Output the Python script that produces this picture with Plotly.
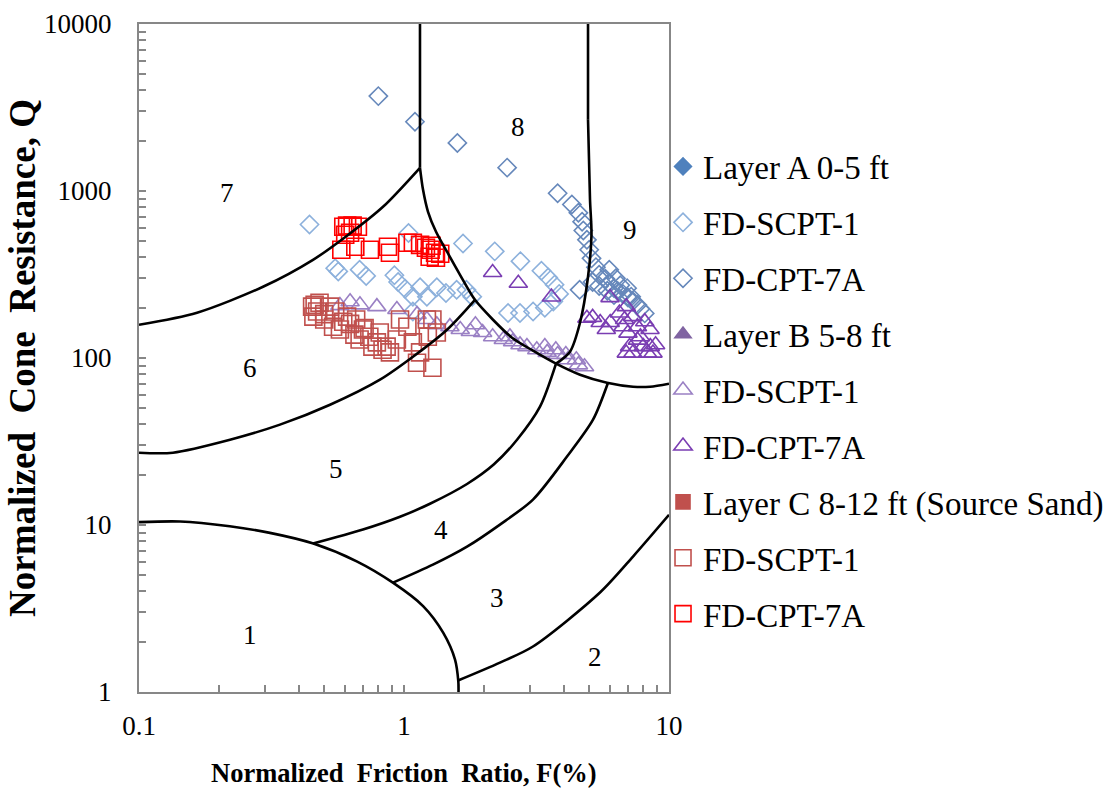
import numpy as np
import plotly.graph_objects as go

# ---------------- data ----------------
# Layer A 0-5 ft
a_scpt_F = [0.44, 0.55, 0.565, 0.68, 0.72, 0.92, 0.95, 1.01, 1.04, 1.08, 1.15, 1.22, 1.33, 1.44, 1.58,
            1.72, 1.81, 1.67, 2.2, 2.75, 3.3, 3.5, 3.7, 3.85, 3.66, 3.4, 3.07, 2.74, 2.47, 1.08]
a_scpt_Q = [630, 345, 330, 338, 310, 313, 285, 260, 560, 233, 265, 233, 265, 245, 256,
            256, 233, 485, 435, 380, 333, 303, 275, 242, 218, 200, 190, 186, 186, 190]
a_cpt_F = [0.80, 1.10, 1.59, 2.45, 3.8, 4.3, 4.55, 4.7, 4.75, 4.9, 5.0, 5.1, 5.3, 5.45, 5.75, 5.95, 6.2,
           6.4, 6.7, 7.0, 7.3, 7.6, 7.8, 8.1, 5.45, 5.85, 6.2, 6.55, 5.15, 6.95, 6.3, 5.95, 7.2, 4.6]
a_cpt_Q = [3700, 2600, 1940, 1380, 970, 830, 740, 655, 580, 510, 445, 395, 350, 315, 298, 278, 262,
           252, 242, 230, 219, 208, 197, 185, 270, 253, 238, 273, 285, 262, 300, 338, 233, 256]

# Layer B 5-8 ft
b_scpt_F = [0.573, 0.626, 0.682, 0.79, 0.94, 1.12, 1.22, 1.33, 1.49, 1.63, 1.78, 1.98, 2.16, 2.37, 2.57,
            2.91, 3.17, 3.47, 3.8, 4.15, 4.55, 4.8, 3.4, 3.74, 4.08, 4.47, 2.74, 2.51, 1.86]
b_scpt_Q = [206, 217, 208, 203, 195, 182, 170, 158, 154, 148, 144, 142, 134, 129, 125,
            117, 112, 108, 105, 97.7, 91, 88.7, 117, 112, 105, 97.7, 120, 134, 158]
b_cpt_F = [2.16, 2.7, 3.6, 5.99, 5.15, 5.5, 6.0, 6.5, 6.9, 7.3, 7.6, 7.8, 8.0, 8.3, 7.1, 7.3, 6.9, 7.6,
           8.5, 8.7, 7.0, 6.7, 4.9, 5.8, 8.48, 8.9, 8.1, 6.8]
b_cpt_Q = [325, 280, 232, 230, 175, 163, 163, 186, 203, 177, 154, 134, 117, 107, 117, 107, 107, 128,
           117, 107, 141, 154, 173, 148, 148, 120, 165, 170]

# Layer C 8-12 ft (Source Sand)
c_scpt_F = [0.45, 0.48, 0.526, 0.455, 0.50, 0.54, 0.573, 0.61, 0.66, 0.70, 0.74, 0.79, 0.81, 0.86, 0.885,
            0.966, 1.03, 1.08, 1.15, 1.12, 1.28, 1.22, 1.28, 1.33, 1.23, 0.94, 0.83, 0.76, 0.46, 0.47,
            0.50, 0.55, 0.59, 0.626, 0.65, 0.68, 0.71]
c_scpt_Q = [203, 214, 203, 177, 170, 154, 148, 177, 170, 148, 134, 124, 142, 117, 108,
            170, 154, 124, 108, 93.7, 87.5, 170, 170, 142, 134, 129, 112, 117, 208, 190,
            183, 190, 165, 160, 138, 129, 151]
c_cpt_F = [0.59, 0.61, 0.64, 0.67, 0.60, 0.626, 0.58, 0.655, 0.744, 0.87, 0.885, 1.03, 1.08, 1.15,
           1.21, 1.26, 1.31, 1.37, 1.25, 1.32, 1.27]
c_cpt_Q = [611, 620, 620, 611, 547, 562, 445, 464, 445, 464, 427, 490, 490, 476,
           457, 445, 427, 421, 404, 398, 470]

bnd_zone1_F = [0.1, 0.143, 0.22, 0.312, 0.455, 0.663, 0.911, 1.183, 1.407, 1.558, 1.603, 1.606]
bnd_zone1_Q = [10.4, 10.5, 9.82, 8.97, 7.74, 6.06, 4.50, 3.26, 2.26, 1.565, 1.16, 1.0]
bnd_8left_F = [1.149, 1.149]
bnd_8left_Q = [10000, 1377]
bnd_89_F = [1.149, 1.18, 1.232, 1.321, 1.453, 1.627, 1.853, 2.167, 2.556, 3.067, 3.747, 4.615,
            5.834, 7.314, 8.48, 10.0]
bnd_89_Q = [1377, 1016, 751, 570, 433, 315, 223, 169.5, 132.3, 110.6, 92.5, 79.4,
            71.1, 67.3, 67.3, 70.2]
bnd_9left_F = [4.948, 4.948]
bnd_9left_Q = [10000, 2668]
bnd_9_F = [4.948, 5.034, 5.099, 4.948, 4.615, 4.23, 3.747]
bnd_9_Q = [2668, 886, 547, 306.6, 162.6, 109.1, 92.5]
bnd_67_F = [0.1, 0.1656, 0.2938, 0.4535, 0.6095, 0.8333, 1.149]
bnd_67_Q = [158, 186.7, 267, 387, 540, 804, 1377]
bnd_56_F = [0.1, 0.1343, 0.2205, 0.3404, 0.5259, 0.8117, 1.081, 1.453, 1.853]
bnd_56_Q = [27.1, 27.1, 32.4, 39.9, 52.5, 74.2, 101.8, 147.7, 223]
bnd_45_F = [0.4535, 0.70, 0.966, 1.253, 1.729, 2.18, 2.67, 3.26, 3.747]
bnd_45_Q = [7.74, 9.39, 11.2, 13.4, 17.6, 23.0, 32.4, 51.1, 92.5]
bnd_34_F = [0.909, 1.286, 1.729, 2.302, 3.067, 4.122, 5.167, 5.886]
bnd_34_Q = [4.52, 5.79, 7.42, 10.06, 14.2, 25.7, 42.7, 71.1]
bnd_23_F = [1.599, 2.302, 3.067, 5.49, 7.314, 10.0]
bnd_23_Q = [1.172, 1.50, 1.872, 3.94, 6.47, 11.5]

zone_names = ["1", "2", "3", "4", "5", "6", "7", "8", "9"]
zone_F = [0.262, 5.26, 2.244, 1.379, 0.554, 0.262, 0.215, 2.69, 7.13]
zone_Q = [2.18, 1.63, 3.68, 9.39, 21.5, 87.5, 975, 2422, 586]

x_tickvals = [0.1, 1, 10]
x_ticktext = ["0.1", "1", "10"]
y_tickvals = [1, 10, 100, 1000, 10000]
y_ticktext = ["1", "10", "100", "1000", "10000"]

# ---------------- figure ----------------
FONT = "Liberation Serif"
fig = go.Figure()

def add_points(name, F, Q, symbol, color, size, group):
    fig.add_trace(go.Scatter(
        x=F, y=Q, mode="markers", name=name, legendgroup=group,
        marker=dict(symbol=symbol, size=size, color=color, line=dict(width=1.6, color=color)),
    ))

add_points("Layer A 0-5 ft", [None], [None], "diamond", "#4f81bd", 13, "g1")
add_points("FD-SCPT-1", a_scpt_F, a_scpt_Q, "diamond-open", "#8db1dc", 14, "g2")
add_points("FD-CPT-7A", a_cpt_F, a_cpt_Q, "diamond-open", "#6688bb", 14, "g3")
add_points("Layer B 5-8 ft", [None], [None], "triangle-up", "#8064a2", 14, "g4")
add_points("FD-SCPT-1", b_scpt_F, b_scpt_Q, "triangle-up-open", "#9a80c4", 16, "g5")
add_points("FD-CPT-7A", b_cpt_F, b_cpt_Q, "triangle-up-open", "#7a3db2", 16, "g6")
add_points("Layer C 8-12 ft (Source Sand)", [None], [None], "square", "#c0504d", 14, "g7")
add_points("FD-SCPT-1", c_scpt_F, c_scpt_Q, "square-open", "#c0504d", 17, "g8")
add_points("FD-CPT-7A", c_cpt_F, c_cpt_Q, "square-open", "#ff0000", 17, "g9")

for bf, bq, shp in [(bnd_zone1_F, bnd_zone1_Q, "spline"), (bnd_8left_F, bnd_8left_Q, "linear"),
                    (bnd_89_F, bnd_89_Q, "spline"), (bnd_9left_F, bnd_9left_Q, "linear"),
                    (bnd_9_F, bnd_9_Q, "spline"), (bnd_67_F, bnd_67_Q, "spline"),
                    (bnd_56_F, bnd_56_Q, "spline"), (bnd_45_F, bnd_45_Q, "spline"),
                    (bnd_34_F, bnd_34_Q, "spline"), (bnd_23_F, bnd_23_Q, "spline")]:
    line = dict(color="black", width=2.6, shape=shp)
    if shp == "spline":
        line["smoothing"] = 0.8
    fig.add_trace(go.Scatter(x=bf, y=bq, mode="lines", showlegend=False, hoverinfo="skip", line=line))

for n, f, q in zip(zone_names, zone_F, zone_Q):
    fig.add_annotation(x=np.log10(f), y=np.log10(q), xref="x", yref="y", text=n, showarrow=False,
                       font=dict(family=FONT, size=27, color="black"))

fig.add_annotation(x=0.5, y=-0.121, xref="paper", yref="paper", text="<b>Normalized  Friction  Ratio, F(%)</b>",
                   showarrow=False, font=dict(family=FONT, size=26.5, color="black"), yanchor="middle")
fig.add_annotation(x=-0.2208, y=0.5, xref="paper", yref="paper", text="<b>Normalized  Cone  Resistance, Q</b>",
                   showarrow=False, textangle=-90, font=dict(family=FONT, size=37, color="black"),
                   xanchor="center", yanchor="middle")

minor_x = [m * 10.0 ** k for k in (-1, 0) for m in range(2, 10)]
minor_y = [m * 10.0 ** k for k in (0, 1, 2, 3) for m in range(2, 10)]

axis_common = dict(showline=True, mirror=True, linecolor="#878787", linewidth=2, showgrid=False,
                   zeroline=False, ticks="inside", ticklen=7, tickwidth=1.5, tickcolor="#878787",
                   tickfont=dict(family=FONT, size=27, color="black"))
fig.update_xaxes(type="log", range=[-1, 1], tickvals=x_tickvals, ticktext=x_ticktext,
                 ticklabelstandoff=9,
                 minor=dict(tickvals=minor_x, ticks="inside", ticklen=7, tickwidth=1.5, tickcolor="#878787"),
                 **axis_common)
fig.update_yaxes(type="log", range=[0, 4], tickvals=y_tickvals, ticktext=y_ticktext,
                 ticklabelstandoff=20,
                 minor=dict(tickvals=minor_y, ticks="inside", ticklen=7, tickwidth=1.5, tickcolor="#878787"),
                 **axis_common)

fig.update_layout(
    width=1109, height=788,
    margin=dict(l=139, r=440, t=24, b=96, autoexpand=False),
    paper_bgcolor="white", plot_bgcolor="white",
    font=dict(family=FONT, color="black"),
    legend=dict(x=0.9887, y=0.8286, xanchor="left", yanchor="top", tracegroupgap=10,
                font=dict(family=FONT, size=33, color="black"), bgcolor="rgba(0,0,0,0)"),
)

fig.write_html("out.html")
